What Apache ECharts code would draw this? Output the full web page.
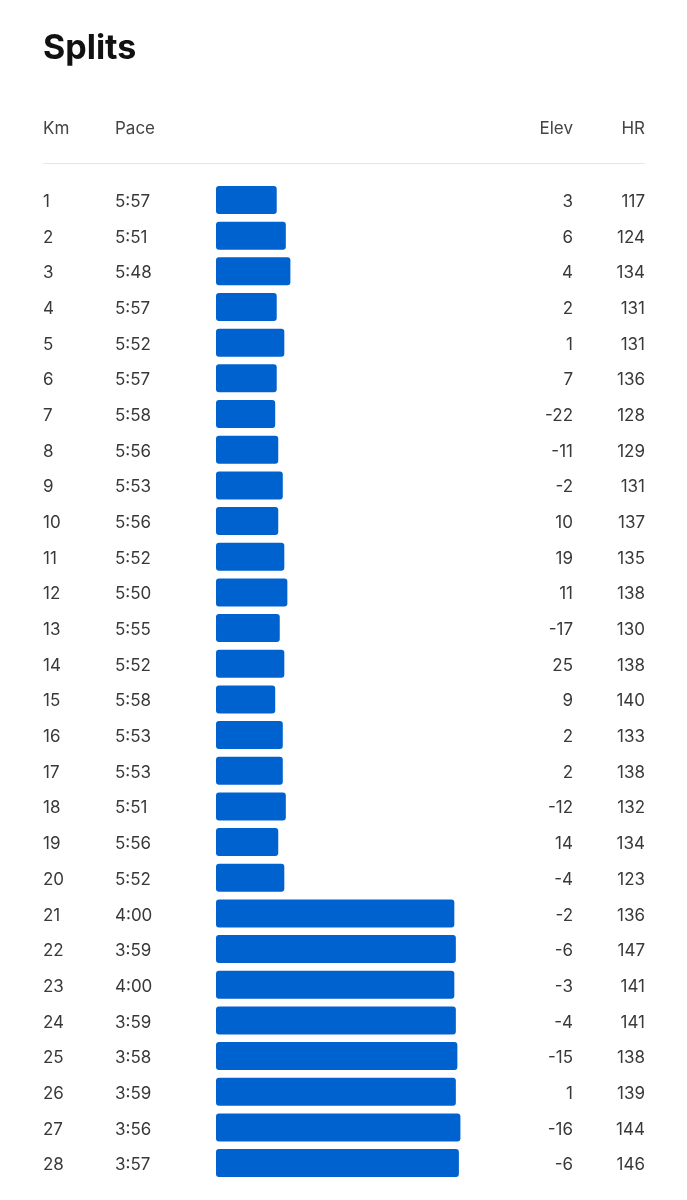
<!DOCTYPE html>
<html>
<head>
<meta charset="utf-8">
<script src="https://cdn.jsdelivr.net/npm/echarts@6/dist/echarts.min.js"></script>
<style>
  html, body { margin: 0; padding: 0; background: #fff; }
  #chart { width: 687px; height: 1200px; }
</style>
</head>
<body>
<div id="chart"></div>
<script>
// split data
var kms = ['1','2','3','4','5','6','7','8','9','10','11','12','13','14','15','16','17','18','19','20','21','22','23','24','25','26','27','28'];
var paces = ['5:57','5:51','5:48','5:57','5:52','5:57','5:58','5:56','5:53','5:56','5:52','5:50','5:55','5:52','5:58','5:53','5:53','5:51','5:56','5:52','4:00','3:59','4:00','3:59','3:58','3:59','3:56','3:57'];
var elevs = [3, 6, 4, 2, 1, 7, -22, -11, -2, 10, 19, 11, -17, 25, 9, 2, 2, -12, 14, -4, -2, -6, -3, -4, -15, 1, -16, -6];
var hrs = [117, 124, 134, 131, 131, 136, 128, 129, 131, 137, 135, 138, 130, 138, 140, 133, 138, 132, 134, 123, 136, 147, 141, 141, 138, 139, 144, 146];

// bar length grows as pace gets faster; bars measured from this slow pace (seconds)
var slowPace = 397;
function toSec(p) { var a = p.split(':'); return +a[0] * 60 + +a[1]; }

var font = 'Inter, "Noto Sans", sans-serif';
var ink = '#393939';
var pad = [4, 0, 0, 0]; // nudges row text down onto the bar centre

var chart = echarts.init(document.getElementById('chart'));
chart.setOption({
    animation: false,
    title: {
        text: 'Splits', left: 38, top: 27,
        textStyle: { fontFamily: font, fontSize: 34, fontWeight: 'bold', color: '#111' }
    },
    grid: { left: 216, right: 42, top: 182.2, height: 998.7 },
    xAxis: {
        type: 'value', min: 0, max: 282.6,
        show: false
    },
    yAxis: [{
        type: 'category', data: kms, inverse: true,
        axisLine: { show: false }, axisTick: { show: false }, splitLine: { show: false },
        axisLabel: {
            margin: 173, align: 'left',
            formatter: function (v, i) { return '{km|' + v + '}{pace|' + paces[i] + '}'; },
            rich: {
                km: { width: 72, padding: pad, fontFamily: font, fontSize: 17, color: ink },
                pace: { padding: pad, fontFamily: font, fontSize: 17, color: ink }
            }
        }
    }, {
        type: 'category', data: kms, inverse: true, position: 'right',
        axisLine: { show: false }, axisTick: { show: false }, splitLine: { show: false },
        axisLabel: {
            margin: 0, align: 'right',
            formatter: function (v, i) { return '{elev|' + elevs[i] + '}{hr|' + hrs[i] + '}'; },
            rich: {
                elev: { width: 40, align: 'right', padding: pad, fontFamily: font, fontSize: 17, color: ink },
                hr: { width: 72, align: 'right', padding: pad, fontFamily: font, fontSize: 17, color: ink }
            }
        }
    }],
    graphic: [
        { type: 'text', left: 43, top: 120, style: { text: 'Km', font: '17px ' + font, fill: '#444' } },
        { type: 'text', left: 115, top: 120, style: { text: 'Pace', font: '17px ' + font, fill: '#444' } },
        { type: 'text', right: 687 - 573, top: 120, style: { text: 'Elev', font: '17px ' + font, fill: '#444', align: 'right' } },
        { type: 'text', right: 42, top: 120, style: { text: 'HR', font: '17px ' + font, fill: '#444', align: 'right' } },
        { type: 'line', shape: { x1: 43, y1: 163.5, x2: 645, y2: 163.5 }, style: { stroke: '#e6e6e6', lineWidth: 1 } }
    ],
    series: [{
        type: 'bar',
        data: paces.map(function (p) { return slowPace - toSec(p); }),
        barWidth: 28,
        itemStyle: { color: '#0062cf', borderRadius: 3 }
    }]
});
</script>
</body>
</html>
